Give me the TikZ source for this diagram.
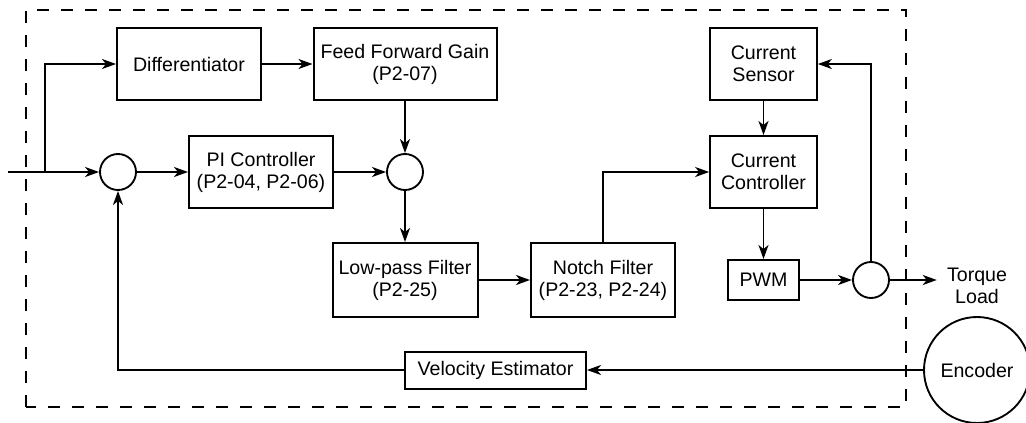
\documentclass[tikz,border=0pt]{standalone}
\usepackage{fontspec}
\setmainfont{Liberation Sans}
\usetikzlibrary{arrows.meta}
\begin{document}
\begin{tikzpicture}[x=0.75pt,y=-0.75pt,
  every node/.style={font=\fontsize{14.7pt}{16.5pt}\selectfont, align=center, inner sep=0pt},
  blk/.style={draw, line width=1.5pt},
  sumc/.style={draw, circle, line width=1.4pt, minimum size=27pt},
  conn/.style={line width=1.4pt, -{Stealth[length=10.5pt,width=7.5pt,inset=3pt]}},
  frame/.style={line width=1pt, dash pattern=on 9pt off 9pt}]
\useasboundingbox (0,0) rectangle (1026,422);
\draw[frame] (26,407) -- (26,10) -- (906,10) -- (906,407) -- cycle;
% blocks
\node[blk, minimum width=108pt, minimum height=54pt] (diff) at (189,64) {Differentiator};
\node[blk, minimum width=137.25pt, minimum height=54pt] (ffg) at (405,64) {Feed Forward Gain\\(P2-07)};
\node[blk, minimum width=108pt, minimum height=54pt] (pi) at (261,172) {PI Controller\\(P2-04, P2-06)};
\node[blk, minimum width=108.75pt, minimum height=55.5pt] (lpf) at (405,280) {Low-pass Filter\\(P2-25)};
\node[blk, minimum width=108pt, minimum height=55.5pt] (notch) at (603,280) {Notch Filter\\(P2-23, P2-24)};
\node[blk, minimum width=135.75pt, minimum height=27.75pt] (ve) at (495.5,370) {Velocity Estimator};
\node[blk, minimum width=80pt, minimum height=54pt] (cs) at (763.5,64) {Current\\Sensor};
\node[blk, minimum width=80pt, minimum height=54pt] (cc) at (763.5,172) {Current\\Controller};
\node[blk, minimum width=53.25pt, minimum height=30pt] (pwm) at (763.5,280) {PWM};
\node[sumc] (c1) at (118,172) {};
\node[sumc] (c2) at (405,172) {};
\node[sumc] (c3) at (871,280) {};
\node[draw, circle, line width=1.4pt, minimum size=79.5pt] (enc) at (977,370) {Encoder};
\node[inner xsep=7.5pt] (tq) at (977,286) {Torque\\Load};
\coordinate (in) at (8,172);
\coordinate (br) at (45,172);
% connectors
\draw[conn] (in) -- (c1);
\draw[conn] (br) |- (diff.west);
\draw[conn] (diff) -- (ffg);
\draw[conn] (ffg) -- (c2);
\draw[conn] (c1) -- (pi);
\draw[conn] (pi) -- (c2);
\draw[conn] (c2) -- (lpf);
\draw[conn] (lpf) -- (notch);
\draw[conn] (notch.north) |- (cc.west);
\draw[conn] (cs) -- (cc);
\draw[conn] (cc) -- (pwm);
\draw[conn] (pwm) -- (c3);
\draw[conn] (c3.north) |- (cs.east);
\draw[conn] (c3.east) -- (c3.east -| tq.west);
\draw[conn] (enc.west) -- (ve.east);
\draw[conn] (ve.west) -| (c1.south);
\end{tikzpicture}
\end{document}
